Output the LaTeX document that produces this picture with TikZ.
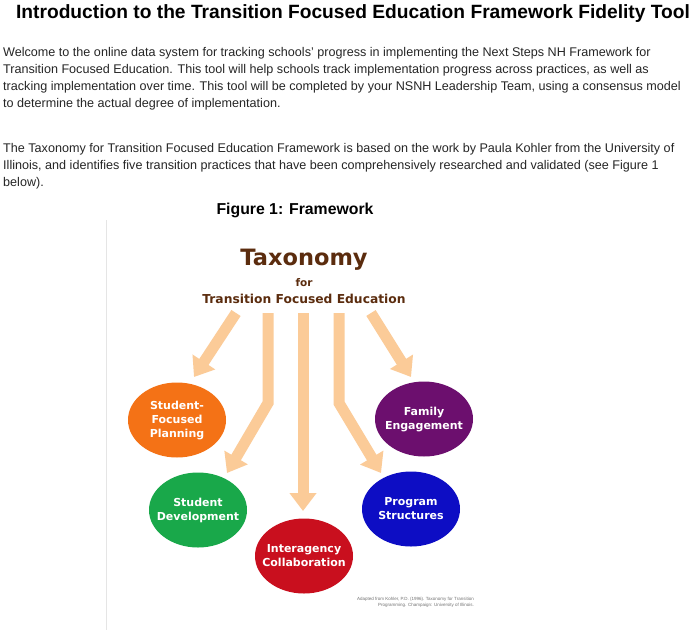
\documentclass[tikz,border=0pt]{standalone}
\usepackage{fontspec}
\setmainfont{Liberation Sans}
\newfontfamily\dejavu{DejaVu Sans}
\usetikzlibrary{arrows.meta,shapes.geometric}
\definecolor{bodytext}{HTML}{262626}
\definecolor{taxbrown}{HTML}{5B2C0E}
\definecolor{peach}{HTML}{FBCB98}
\definecolor{sfporange}{HTML}{F47216}
\definecolor{fepurple}{HTML}{6C0F6E}
\definecolor{sdgreen}{HTML}{19A84A}
\definecolor{psblue}{HTML}{0D0DC4}
\definecolor{icred}{HTML}{C90F1E}

\begin{document}
\begin{tikzpicture}[x=1pt,y=-1pt]
  \tikzstyle{practice}=[ellipse,minimum width=98pt,minimum height=75pt,inner xsep=-14pt,inner ysep=0pt,text=white,align=center,font=\dejavu\bfseries\fontsize{11}{14}\selectfont]
  \tikzstyle{flow}=[draw=peach,line width=11pt,line join=miter,-{Triangle[width=26pt,length=18pt]}]
  \tikzstyle{para}=[anchor=north west,align=left,inner sep=0pt,text=bodytext,font=\fontsize{12.6}{17}\selectfont]
  \useasboundingbox (0,0) rectangle (700,637);
  \fill[white] (0,0) rectangle (700,637);

  \node[font=\bfseries\fontsize{19.2}{23}\selectfont] (title) at (353,14) {Introduction to the Transition Focused Education Framework Fidelity Tool};
  \node[para] (intro) at (3,47) {Welcome to the online data system for tracking schools' progress in implementing the Next Steps NH Framework for\\
    Transition Focused Education. This tool will help schools track implementation progress across practices, as well as\\
    tracking implementation over time. This tool will be completed by your NSNH Leadership Team, using a consensus model\\
    to determine the actual degree of implementation.};
  \node[para] (basis) at (3,143) {The Taxonomy for Transition Focused Education Framework is based on the work by Paula Kohler from the University of\\
    Illinois, and identifies five transition practices that have been comprehensively researched and validated (see Figure 1\\
    below).};
  \node[font=\bfseries\fontsize{15.8}{18}\selectfont] (fig) at (295,210) {Figure 1: Framework};

  \draw[black!10,line width=1pt] (106,220) -- (106,630);

  \node[text=taxbrown,font=\dejavu\bfseries\fontsize{22.5}{26}\selectfont] (tax) at (304,260) {Taxonomy};
  \node[text=taxbrown,font=\dejavu\bfseries\fontsize{10.5}{12}\selectfont] (for) at (304,283) {for};
  \node[text=taxbrown,font=\dejavu\bfseries\fontsize{12.3}{14}\selectfont] (tfe) at (304,299) {Transition Focused Education};

  \coordinate (a1) at (236,313);
  \coordinate (t1) at (194,377);
  \coordinate (a2) at (268,313);
  \coordinate (b2) at (268,403);
  \coordinate (t2) at (227,473);
  \coordinate (a3) at (303,313);
  \coordinate (t3) at (303,511);
  \coordinate (a4) at (339,313);
  \coordinate (b4) at (339,403);
  \coordinate (t4) at (381,473);
  \coordinate (a5) at (371,313);
  \coordinate (t5) at (411,377);
  \draw[flow] (a1) -- (t1);
  \draw[flow] (a2) -- (b2) -- (t2);
  \draw[flow] (a3) -- (t3);
  \draw[flow] (a4) -- (b4) -- (t4);
  \draw[flow] (a5) -- (t5);

  \node[practice,fill=sfporange] (SFP) at (177,420) {Student-\\Focused\\Planning};
  \node[practice,fill=fepurple] (FE) at (424,419) {Family\\Engagement};
  \node[practice,fill=sdgreen] (SD) at (198,510) {Student\\Development};
  \node[practice,fill=psblue] (PS) at (411,509) {Program\\Structures};
  \node[practice,fill=icred] (IC) at (304,556) {Interagency\\Collaboration};

  \node[anchor=north east,align=right,inner sep=0pt,text=black!55,font=\fontsize{4.5}{6}\selectfont] (cite) at (474,597) {Adapted from Kohler, P.D. (1996). Taxonomy for Transition\\Programming. Champaign: University of Illinois.};
\end{tikzpicture}
\end{document}
